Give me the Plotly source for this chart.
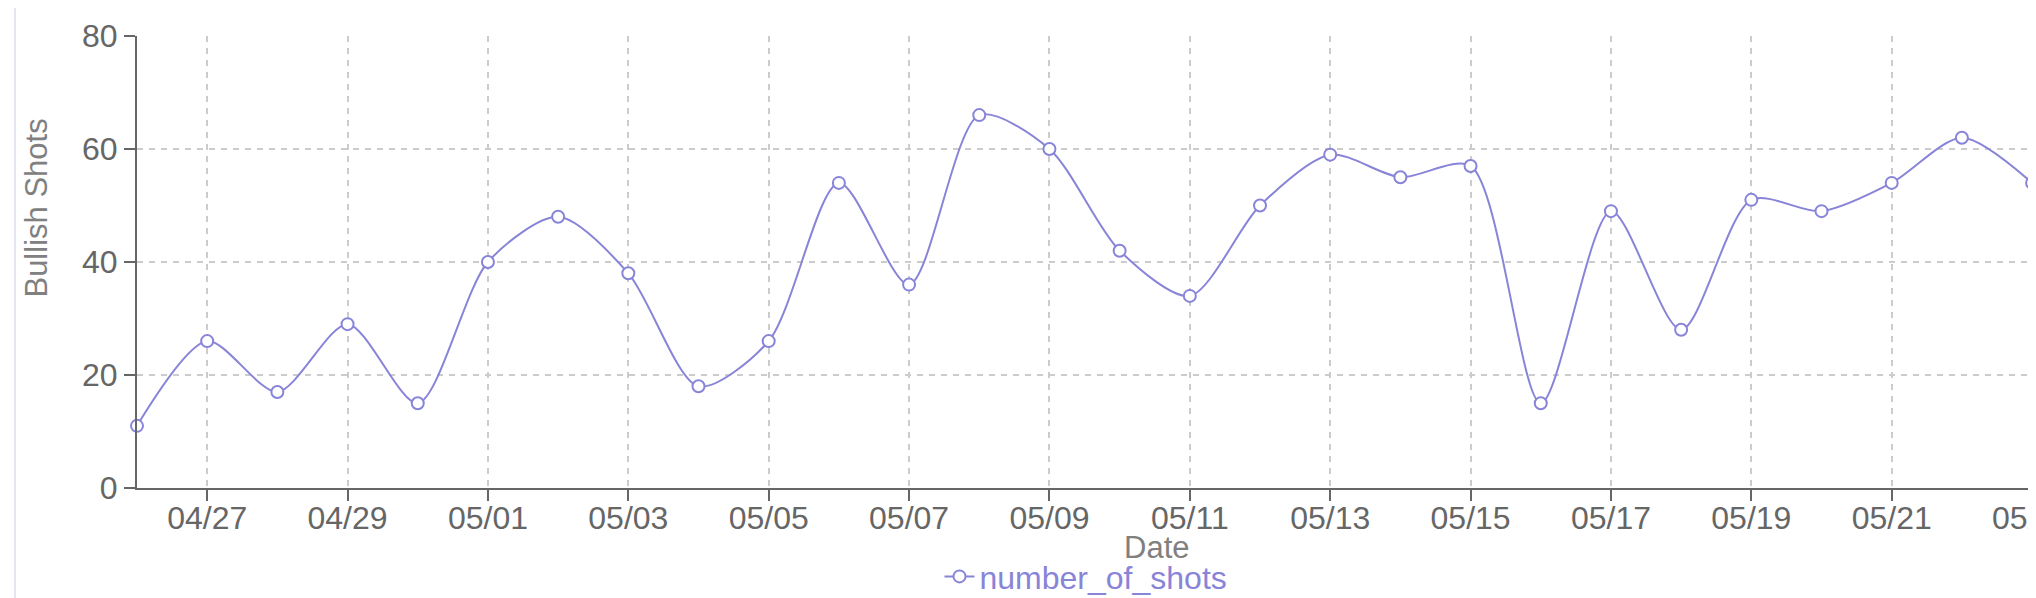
import plotly.graph_objects as go

dates = ["2023-04-26", "2023-04-27", "2023-04-28", "2023-04-29", "2023-04-30",
         "2023-05-01", "2023-05-02", "2023-05-03", "2023-05-04", "2023-05-05",
         "2023-05-06", "2023-05-07", "2023-05-08", "2023-05-09", "2023-05-10",
         "2023-05-11", "2023-05-12", "2023-05-13", "2023-05-14", "2023-05-15",
         "2023-05-16", "2023-05-17", "2023-05-18", "2023-05-19", "2023-05-20",
         "2023-05-21", "2023-05-22", "2023-05-23"]
number_of_shots = [11, 26, 17, 29, 15, 40, 48, 38, 18, 26, 54, 36, 66, 60, 42,
                   34, 50, 59, 55, 57, 15, 49, 28, 51, 49, 54, 62, 54]
y_ticks = [0, 20, 40, 60, 80]

line_color = "#8884d8"
font_family = "Liberation Sans, Arial, sans-serif"

fig = go.Figure()
fig.add_trace(go.Scatter(
    x=dates, y=number_of_shots, name="number_of_shots",
    mode="lines+markers",
    line=dict(color=line_color, width=2, shape="spline", smoothing=0.8),
    marker=dict(size=12, color="white", line=dict(color=line_color, width=2)),
    cliponaxis=False,
))

# page body has an 8px margin, so the figure is a bit smaller than the window
fig.update_layout(
    width=2028, height=590,
    margin=dict(l=129, r=1, t=28, b=110, autoexpand=False),
    paper_bgcolor="white", plot_bgcolor="white",
    font=dict(family=font_family, color="#666"),
    showlegend=True,
    legend=dict(orientation="h", x=0.5, xanchor="center", y=-0.196, yanchor="middle",
                font=dict(size=32, color=line_color), bgcolor="rgba(0,0,0,0)"),
)

fig.update_xaxes(
    type="date", range=[dates[0], "2023-05-23 01:00"],
    tick0="2023-04-27", dtick=2 * 86400000, tickformat="%m/%d",
    ticks="outside", ticklen=11, tickwidth=2, tickcolor="#666",
    tickfont=dict(size=32, color="#666"), ticklabelstandoff=-10,
    ticklabeloverflow="allow", automargin=False,
    showline=True, linecolor="#666", linewidth=2,
    showgrid=True, gridcolor="#ccc", gridwidth=2, griddash="6px,6px",
    zeroline=False,
)
fig.update_yaxes(
    range=[0, 80], tickvals=y_ticks, automargin=False,
    ticks="outside", ticklen=11, tickwidth=2, tickcolor="#666",
    tickfont=dict(size=32, color="#666"),
    showline=True, linecolor="#666", linewidth=2,
    showgrid=True, gridcolor="#ccc", gridwidth=2, griddash="6px,6px",
    zeroline=False,
)

# axis titles placed where the original puts them
fig.add_annotation(text="Date", xref="paper", yref="paper", x=0.537, y=-0.132,
                   xanchor="center", yanchor="middle", showarrow=False,
                   font=dict(size=31, color="#808080"))
fig.add_annotation(text="Bullish Shots", xref="paper", yref="paper", x=-0.0528, y=0.62,
                   xanchor="center", yanchor="middle", textangle=-90, showarrow=False,
                   font=dict(size=31, color="#808080"))

# card border
fig.add_shape(type="rect", xref="paper", yref="paper", x0=-0.0643, x1=1.2, y0=-0.5, y1=1.0686,
              line=dict(color="#e3e6ec", width=2), fillcolor="rgba(0,0,0,0)", layer="below")

fig.write_html("out.html")
